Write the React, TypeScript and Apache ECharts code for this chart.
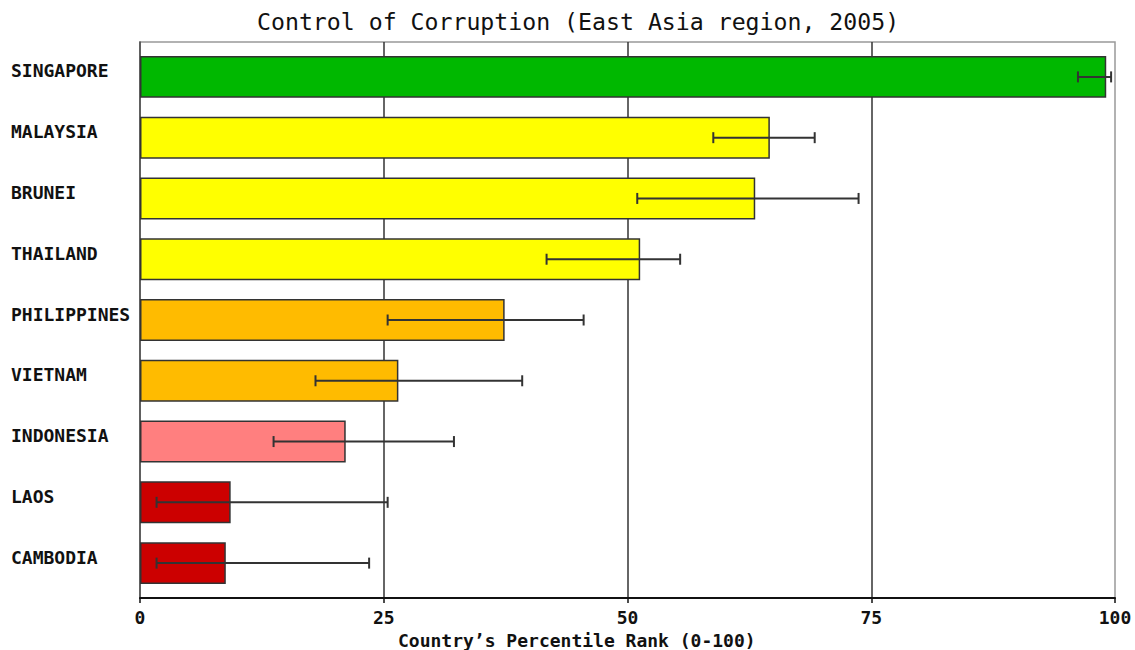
import React, { useEffect, useRef } from "react";
import * as echarts from "echarts";

const categories = ["SINGAPORE", "MALAYSIA", "BRUNEI", "THAILAND", "PHILIPPINES", "VIETNAM", "INDONESIA", "LAOS", "CAMBODIA"];
const values = [99.1, 64.6, 63.1, 51.3, 37.4, 26.5, 21.1, 9.3, 8.8];
const lowerBounds = [96.2, 58.8, 51.0, 41.7, 25.4, 18.0, 13.7, 1.7, 1.7];
const upperBounds = [99.6, 69.2, 73.7, 55.4, 45.5, 39.2, 32.2, 25.4, 23.5];
const barColors = ["#00b800", "#ffff00", "#ffff00", "#ffff00", "#ffbb00", "#ffbb00", "#ff7f7f", "#cc0000", "#cc0000"];
const titleText = "Control of Corruption (East Asia region, 2005)";
const xAxisName = "Country\u2019s Percentile Rank (0-100)";

const MONO = "'DejaVu Sans Mono', 'Liberation Mono', monospace";

export default function App() {
  const ref = useRef<HTMLDivElement>(null);
  useEffect(() => {
    if (!ref.current) return;
    const chart = echarts.init(ref.current, null, { renderer: "svg" });
    const errorData = categories.map((_, i) => [i, lowerBounds[i], upperBounds[i]]);
    chart.setOption({
      animation: false,
      backgroundColor: "#ffffff",
      title: {
        text: titleText,
        left: 257,
        top: 10,
        padding: 0,
        textStyle: { fontFamily: MONO, fontSize: 23.2, fontWeight: "normal", color: "#111" },
      },
      graphic: [
        {
          type: "text",
          x: 398,
          y: 640,
          style: {
            text: xAxisName,
            font: `bold 18px ${MONO}`,
            fill: "#111",
            align: "left",
            verticalAlign: "middle",
          },
        },
      ],
      grid: [
        {
          left: 140,
          right: 20,
          top: 42,
          bottom: 52,
          show: true,
          borderColor: "#999",
          borderWidth: 1.5,
        },
        {
          left: 140,
          right: 20,
          top: 46.5,
          bottom: 56.5,
          show: false,
        },
      ],
      xAxis: [
        {
          type: "value",
          gridIndex: 0,
          min: 0,
          max: 100,
          interval: 25,
          axisLine: { show: true, lineStyle: { color: "#111", width: 2 } },
          axisTick: { show: true, length: 5, lineStyle: { color: "#111", width: 1.5 } },
          axisLabel: { fontFamily: MONO, fontSize: 18, fontWeight: "bold", color: "#111", margin: 10 },
          splitLine: { show: true, showMinLine: false, showMaxLine: false, lineStyle: { color: "#333", width: 1.5 } },
        },
        {
          type: "value",
          gridIndex: 1,
          min: 0,
          max: 100,
          interval: 25,
          show: false,
          splitLine: { show: false },
        },
      ],
      yAxis: [
        {
          type: "category",
          gridIndex: 0,
          data: categories,
          inverse: true,
          axisLine: { show: true, lineStyle: { color: "#444", width: 1.5 } },
          axisTick: { show: false },
          axisLabel: { show: false },
          splitLine: { show: false },
        },
        {
          type: "category",
          gridIndex: 1,
          data: categories,
          inverse: true,
          axisLine: { show: false },
          axisTick: { show: false },
          splitLine: { show: false },
          axisLabel: {
            fontFamily: MONO,
            fontSize: 18,
            fontWeight: "bold",
            color: "#111",
            align: "left",
            margin: 129,
            verticalAlign: "bottom",
            lineHeight: 12,
          },
        },
      ],
      series: [
        {
          type: "bar",
          xAxisIndex: 1,
          yAxisIndex: 1,
          data: values.map((v, i) => ({ value: v, itemStyle: { color: barColors[i] } })),
          barWidth: "69%",
          itemStyle: { borderColor: "#333", borderWidth: 1.5 },
          z: 2,
        },
        {
          type: "custom",
          xAxisIndex: 1,
          yAxisIndex: 1,
          data: errorData,
          encode: { x: [1, 2], y: 0 },
          z: 5,
          renderItem: (params: any, api: any) => {
            const cat = api.value(0);
            const lo = api.coord([api.value(1), cat]);
            const hi = api.coord([api.value(2), cat]);
            const y = lo[1];
            const h = 5.5;
            const style = { stroke: "#333", lineWidth: 2 };
            return {
              type: "group",
              children: [
                { type: "line", shape: { x1: lo[0], y1: y, x2: hi[0], y2: y }, style },
                { type: "line", shape: { x1: lo[0], y1: y - h, x2: lo[0], y2: y + h }, style },
                { type: "line", shape: { x1: hi[0], y1: y - h, x2: hi[0], y2: y + h }, style },
              ],
            };
          },
        },
      ],
    });
    return () => chart.dispose();
  }, []);
  return <div ref={ref} style={{ position: "fixed", left: 0, top: 0, width: 1135, height: 650 }} />;
}
